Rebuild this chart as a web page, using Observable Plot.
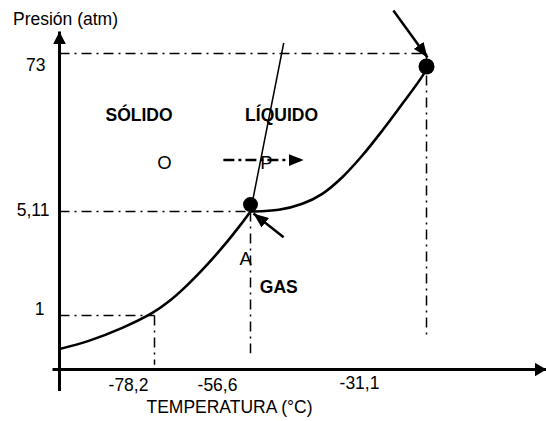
<!DOCTYPE html>
<html><head><meta charset="utf-8">
<script src="https://cdn.jsdelivr.net/npm/d3@7"></script>
<script src="https://cdn.jsdelivr.net/npm/@observablehq/plot@0.6"></script>
<style>
html,body{margin:0;padding:0;background:#fff;}
#chart svg{display:block;}
</style>
</head><body><div id="chart"></div>
<script>
// ---- data (schematic phase diagram) ----
const tickTemps = [-78.2, -56.6, -31.1];
const tickTempLabels = ["-78,2", "-56,6", "-31,1"];
const tickPress = [1, 5.11, 73];
const tickPressLabels = ["1", "5,11", "73"];
const dropBottom = [0.09, 0.30, 0.58];

const subT = [-100, -93.3, -85.6, -78.7, -75.0, -71.6, -66.3, -61.8, -58.85, -56.6];
const subP = [0.38, 0.53, 0.77, 1.10, 1.55, 2.07, 3.02, 3.93, 4.58, 5.11];
const vapT = [-56.6, -52.5, -49.1, -46.2, -43.3, -40.4, -37.5, -34.6, -31.5, -31.1];
const vapP = [5.11, 5.84, 8.42, 12.72, 19.85, 29.17, 39.9, 51.4, 64.3, 67.4];
const fusT = [-56.6, -51.8];
const fusP = [5.11, 77.3];

const tripleT = -56.6, tripleP = 5.11;
const critT = -31.1, critP = 73;

const regionNames = ["SÓLIDO", "LÍQUIDO", "GAS"];
const regionT = [-81.75, -52.1, -52.5];
const regionP = [46.6, 46.6, 2.13];

const pointNames = ["O", "P", "A"];
const pointT = [-75.95, -54.3, -57.7];
const pointP = [25.9, 26.0, 3.23];

const pathT = [-62.7, -48.9];
const pathP = 27.2;

const arrowCrit = {t1: -35.9, p1: 91.5, t2: -30.85, p2: 71.3};
const arrowTriple = {t1: -51.8, p1: 4.09, t2: -56.17, p2: 5.03};

const axisT = -100, axisStartT = -101.6, axisEndT = 0;
const axisP = 0, axisStartP = -0.40, axisEndP = 82.5;

const yTitle = "Presión (atm)";
const xTitle = "TEMPERATURA (°C)";

// ---- drawing ----
const FONT = "'Liberation Sans',Arial,sans-serif";
const NS = "http://www.w3.org/2000/svg";
function head(len, half) {
  return (color, context) => {
    const doc = (context && context.document) || document;
    const m = doc.createElementNS(NS, "marker");
    m.setAttribute("viewBox", `${-len} ${-half} ${len} ${2 * half}`);
    m.setAttribute("markerUnits", "userSpaceOnUse");
    m.setAttribute("markerWidth", len);
    m.setAttribute("markerHeight", 2 * half);
    m.setAttribute("refX", 0);
    m.setAttribute("refY", 0);
    m.setAttribute("orient", "auto");
    const p = doc.createElementNS(NS, "path");
    p.setAttribute("d", `M0,0L${-len},${-half}L${-len},${half}Z`);
    p.setAttribute("fill", "#000");
    p.setAttribute("stroke", "none");
    m.appendChild(p);
    return m;
  };
}
const dash = "10,5,2,5";
const idx3 = [0, 1, 2];
const subIdx = d3.range(subT.length);
const vapIdx = d3.range(vapT.length);
const FS = 17.5;

const chart = Plot.plot({
  width: 546, height: 421, margin: 0,
  x: {type: "linear", domain: [-100, -78.2, -56.6, -31.1, 0], range: [59, 154, 250, 426, 546], axis: null},
  y: {type: "linear", domain: [0, 1, 5.11, 73], range: [369, 315, 211, 53], axis: null},
  style: {fontFamily: FONT, background: "#fff", color: "#000"},
  marks: [
    // horizontal drop lines
    Plot.link(idx3, {x1: () => axisT, x2: i => tickTemps[i], y1: i => tickPress[i], y2: i => tickPress[i],
      stroke: "#000", strokeWidth: 1.5, strokeDasharray: dash}),
    // vertical drop lines
    Plot.link(idx3, {x1: i => tickTemps[i], x2: i => tickTemps[i], y1: i => tickPress[i], y2: i => dropBottom[i],
      stroke: "#000", strokeWidth: 1.5, strokeDasharray: dash}),
    // axes
    Plot.link([0], {x1: () => axisT, x2: () => axisT, y1: () => axisStartP, y2: () => axisEndP,
      stroke: "#000", strokeWidth: 3, markerEnd: head(13, 6.5)}),
    Plot.link([0], {x1: () => axisStartT, x2: () => axisEndT, y1: () => axisP, y2: () => axisP,
      stroke: "#000", strokeWidth: 3, markerEnd: head(12, 7)}),
    // phase boundaries
    Plot.line(subIdx, {x: i => subT[i], y: i => subP[i], curve: "catmull-rom", stroke: "#000", strokeWidth: 2.6}),
    Plot.line(vapIdx, {x: i => vapT[i], y: i => vapP[i], curve: "catmull-rom", stroke: "#000", strokeWidth: 2.6}),
    Plot.line([0, 1], {x: i => fusT[i], y: i => fusP[i], stroke: "#000", strokeWidth: 1.5}),
    // path O -> P
    Plot.link([0], {x1: () => pathT[0], x2: () => pathT[1], y1: () => pathP, y2: () => pathP,
      stroke: "#000", strokeWidth: 2.5, strokeDasharray: "11,4,3,4", markerEnd: head(15, 6)}),
    // pointer arrows
    Plot.link([arrowCrit, arrowTriple], {x1: "t1", y1: "p1", x2: "t2", y2: "p2",
      stroke: "#000", strokeWidth: 2.5, markerEnd: head(15, 6)}),
    // triple & critical points
    Plot.dot([0], {x: () => tripleT, y: () => tripleP, r: 7.5, fill: "#000", dy: -7}),
    Plot.dot([0], {x: () => critT, y: () => critP, r: 8, fill: "#000", dy: 13}),
    // region labels
    Plot.text(idx3, {x: i => regionT[i], y: i => regionP[i], text: i => regionNames[i],
      fontWeight: "bold", fontSize: FS, fill: "#000"}),
    // point labels
    Plot.text(idx3, {x: i => pointT[i], y: i => pointP[i], text: i => pointNames[i], fontSize: 18.5, fill: "#000"}),
    // y tick labels
    Plot.text([0], {x: () => axisT, y: () => tickPress[0], text: () => tickPressLabels[0], textAnchor: "end", dx: -15, dy: -6, fontSize: FS, fill: "#000"}),
    Plot.text([0], {x: () => axisT, y: () => tickPress[1], text: () => tickPressLabels[1], textAnchor: "end", dx: -10, dy: -1, fontSize: FS, fill: "#000"}),
    Plot.text([0], {x: () => axisT, y: () => tickPress[2], text: () => tickPressLabels[2], textAnchor: "end", dx: -14, dy: 12, fontSize: FS, fill: "#000"}),
    // x tick labels
    Plot.text([0], {x: () => tickTemps[0], y: () => axisP, text: () => tickTempLabels[0], dx: -26, dy: 16, fontSize: FS, fill: "#000"}),
    Plot.text([0], {x: () => tickTemps[1], y: () => axisP, text: () => tickTempLabels[1], dx: -33, dy: 16, fontSize: FS, fill: "#000"}),
    Plot.text([0], {x: () => tickTemps[2], y: () => axisP, text: () => tickTempLabels[2], dx: -67, dy: 14, fontSize: FS, fill: "#000"}),
    // axis titles
    Plot.text([0], {x: () => axisT, y: () => tickPress[2], text: () => yTitle, dx: 6, dy: -34, fontSize: FS, fill: "#000"}),
    Plot.text([0], {x: () => tickTemps[1], y: () => axisP, text: () => xTitle, dx: -21, dy: 38, fontSize: FS, fill: "#000"})
  ]
});
document.getElementById("chart").appendChild(chart);
</script></body></html>
